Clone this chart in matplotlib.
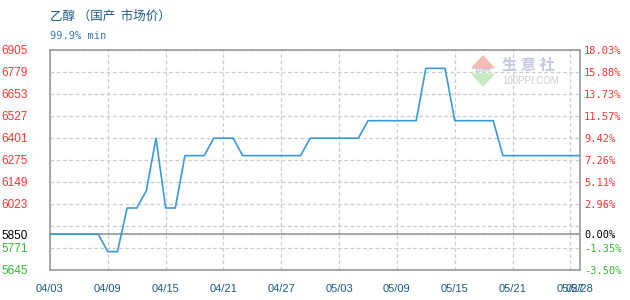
import matplotlib.pyplot as plt
from matplotlib.patches import Polygon

# daily price, 04/03 .. 05/28
dates = ["04/03", "04/04", "04/05", "04/06", "04/07", "04/08", "04/09", "04/10",
         "04/11", "04/12", "04/13", "04/14", "04/15", "04/16", "04/17", "04/18",
         "04/19", "04/20", "04/21", "04/22", "04/23", "04/24", "04/25", "04/26",
         "04/27", "04/28", "04/29", "04/30", "05/01", "05/02", "05/03", "05/04",
         "05/05", "05/06", "05/07", "05/08", "05/09", "05/10", "05/11", "05/12",
         "05/13", "05/14", "05/15", "05/16", "05/17", "05/18", "05/19", "05/20",
         "05/21", "05/22", "05/23", "05/24", "05/25", "05/26", "05/27", "05/28"]
prices = [5850, 5850, 5850, 5850, 5850, 5850, 5750, 5750,
          6000, 6000, 6100, 6400, 6000, 6000, 6300, 6300,
          6300, 6400, 6400, 6400, 6300, 6300, 6300, 6300,
          6300, 6300, 6300, 6400, 6400, 6400, 6400, 6400,
          6400, 6500, 6500, 6500, 6500, 6500, 6500, 6800,
          6800, 6800, 6500, 6500, 6500, 6500, 6500, 6300,
          6300, 6300, 6300, 6300, 6300, 6300, 6300, 6300]
base = 5850

xtick_idx = [0, 6, 12, 18, 24, 30, 36, 42, 48, 54, 55]
ytick_vals = [6905, 6779, 6653, 6527, 6401, 6275, 6149, 6023, 5897, 5850, 5771, 5645]
ytick_left = ["6905", "6779", "6653", "6527", "6401", "6275", "6149", "6023", "", "5850", "5771", "5645"]
ytick_right = ["18.03%", "15.88%", "13.73%", "11.57%", "9.42%", "7.26%", "5.11%", "2.96%", "",
               "0.00%", "-1.35%", "-3.50%"]

RED = "#ff3333"
GREEN = "#33bb33"
NAVY = "#1a5a8a"

fig = plt.figure(figsize=(6.3, 3.0), dpi=100)
ax = fig.add_axes([50 / 630, 30 / 300, 530 / 630, 220 / 300])

x = list(range(len(prices)))
ax.plot(x, prices, color="#3a9ad9", lw=1.2, zorder=4)
ax.axhline(base, color="#999999", lw=1.2, zorder=3)

ax.set_xlim(0, len(prices) - 1)
ax.set_ylim(5645, 6905)

ax.set_xticks(xtick_idx)
ax.set_xticklabels([dates[i] for i in xtick_idx], fontfamily="Liberation Sans",
                   fontsize=8, color=NAVY)
ax.set_yticks(ytick_vals)
ax.set_yticklabels(ytick_left, fontfamily="Liberation Sans", fontsize=8.5)
for lab, v in zip(ax.get_yticklabels(), ytick_vals):
    lab.set_color(RED if v > base else ("black" if v == base else GREEN))
ax.tick_params(axis="x", length=0, pad=10)
ax.tick_params(axis="y", length=0, pad=16)
ax.grid(True, color="#cccccc", ls=(0, (3, 2)), lw=0.9)
for s in ax.spines.values():
    s.set_color("#999999")
    s.set_linewidth(1.2)

ax2 = ax.twinx()
ax2.set_ylim(5645, 6905)
ax2.set_yticks(ytick_vals)
ax2.set_yticklabels(ytick_right, fontfamily="DejaVu Sans Mono", fontsize=7.5)
for lab, v in zip(ax2.get_yticklabels(), ytick_vals):
    lab.set_color(RED if v > base else ("black" if v == base else GREEN))
ax2.tick_params(axis="y", length=0, pad=3)
for s in ax2.spines.values():
    s.set_visible(False)

# title block
fig.text(50 / 630, 1 - 16 / 300, "乙醇 （国产  市场价）", fontfamily=["Noto Sans CJK SC", "DejaVu Sans"],
         fontsize=9, color=NAVY, va="center", ha="left")
fig.text(50 / 630, 1 - 36 / 300, "99.9% min", fontfamily="DejaVu Sans Mono",
         fontsize=7.5, color="#3a7ab0", va="center", ha="left")

# watermark
fig.patches.append(Polygon([[472 / 630, 1 - 68 / 300], [494 / 630, 1 - 68 / 300], [483 / 630, 1 - 56 / 300]],
                           closed=True, transform=fig.transFigure, color="#f6bcb6", zorder=1))
fig.patches.append(Polygon([[472 / 630, 1 - 74 / 300], [494 / 630, 1 - 74 / 300], [483 / 630, 1 - 86 / 300]],
                           closed=True, transform=fig.transFigure, color="#c4eac4", zorder=1))
fig.text(483 / 630, 1 - 71 / 300, "100PPI", fontsize=3.5, color="#9aa0c0", ha="center", va="center")
fig.text(502 / 630, 1 - 65 / 300, "生 意 社", fontfamily=["Noto Sans CJK SC", "DejaVu Sans"],
         fontsize=11, color="#c4c8de", ha="left", va="center", fontweight="bold")
fig.text(502 / 630, 1 - 81 / 300, "100PPI.COM", fontfamily="Liberation Sans",
         fontsize=7, color="#cccccc", ha="left", va="center")

fig.savefig("out.png", dpi=100)
